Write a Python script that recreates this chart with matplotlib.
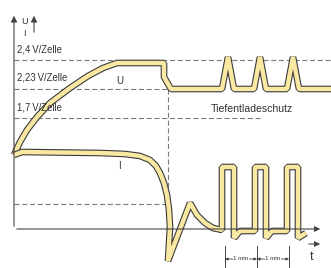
import matplotlib
matplotlib.use("Agg")
import matplotlib.pyplot as plt

plt.rcParams['font.family'] = ['Liberation Sans', 'DejaVu Sans']

# schematic curves: time t (arbitrary units) and value v (arbitrary units, 0 = I axis)
u_t = [0, 6, 13, 23, 36, 56, 74, 89, 103, 150, 150, 157, 208, 214, 220, 240, 246, 252,
       273, 279, 285, 317]
u_v = [74, 87, 99, 112, 126, 141, 153, 161, 166, 166, 152, 140, 140, 172, 140, 140, 172, 140,
       140, 172, 140, 140]

i_t = [0, 8, 86, 111, 126, 136, 142, 146, 150, 153, 155, 156, 154, 176, 183, 191, 199, 208,
       208, 220, 220, 226, 241, 241, 252, 252, 258, 273, 273, 284, 284, 292]
i_v = [74, 77, 76, 75, 73, 69, 63, 56, 46, 34, 19, 2, -32, 26, 14, 6, 1, -1,
       62, 62, -9, -2, -2, 62, 62, -9, -2, -2, 62, 62, -9, -4]

# reference levels
level_v = [169, 140, 111, 25]
level_end = [317, 154, 248, 154]
level_labels = ["2,4\u2009V/Zelle", "2,23\u2009V/Zelle", "1,7\u2009V/Zelle"]
label_v = [179, 151.5, 122]

minute_ticks = [211, 243, 275]

fig = plt.figure(figsize=(3.31, 2.68), dpi=100)
ax = fig.add_axes([0, 0, 1, 1])
ax.set_xlim(-14, 317)
ax.set_ylim(-39, 229)
ax.axis('off')

dash = dict(color='#7a7a7a', lw=0.8, ls=(0, (4.5, 2.5)))
for v, end in zip(level_v, level_end):
    ax.plot([0, end], [v, v], **dash)
ax.plot([154, 154], [140, 24], **dash)

for v, lab in zip(label_v, level_labels):
    ax.text(3, v, lab, fontsize=6.9, color='#333333', va='center', ha='left')

# axes with arrows
axis_col = '#444444'
ax.annotate('', xy=(0, 216), xytext=(0, 0),
            arrowprops=dict(arrowstyle='-|>', color=axis_col, lw=0.8, mutation_scale=9))
ax.annotate('', xy=(20, 216), xytext=(20, 194),
            arrowprops=dict(arrowstyle='-|>', color=axis_col, lw=0.8, mutation_scale=9))
ax.annotate('', xy=(309, 0), xytext=(0, 0),
            arrowprops=dict(arrowstyle='-|>', color=axis_col, lw=0.8, mutation_scale=8))
ax.annotate('', xy=(309, -15), xytext=(292, -15),
            arrowprops=dict(arrowstyle='-|>', color=axis_col, lw=0.8, mutation_scale=8))
ax.text(11, 207, 'U', fontsize=6.5, color='#333333', ha='center', va='center')
ax.text(10, 196, 'I', fontsize=6.5, color='#333333', ha='center', va='center')
ax.text(298, -28, 't', fontsize=9, color='#333333', ha='center', va='center')

# curves: dark outline with yellow fill
for t, v in [(u_t, u_v), (i_t, i_v)]:
    ax.plot(t, v, color='#3a3a3a', lw=4.8, solid_joinstyle='bevel', solid_capstyle='butt')
    ax.plot(t, v, color='#f9e8a2', lw=3.2, solid_joinstyle='bevel', solid_capstyle='butt')

ax.text(106, 148, 'U', fontsize=7, color='#333333', ha='center', va='center')
ax.text(105, 63, 'I', fontsize=7, color='#333333', ha='center', va='center')
ax.text(238, 120.5, 'Tiefentladeschutz', fontsize=7.6, color='#333333', ha='center', va='center')

# 1 min markers
for t in minute_ticks:
    ax.plot([t, t], [-17, -39], color=axis_col, lw=0.7)
for a, b in zip(minute_ticks[:-1], minute_ticks[1:]):
    ax.annotate('', xy=(a, -30), xytext=(b, -30),
                arrowprops=dict(arrowstyle='<|-|>', color=axis_col, lw=0.6, mutation_scale=4,
                                shrinkA=0, shrinkB=0))
    ax.text((a + b) / 2, -30, '1 min', fontsize=4.5, color='#333333', ha='center', va='center',
            bbox=dict(facecolor='white', edgecolor='none', pad=0.3))

fig.savefig('out.png', dpi=100)
